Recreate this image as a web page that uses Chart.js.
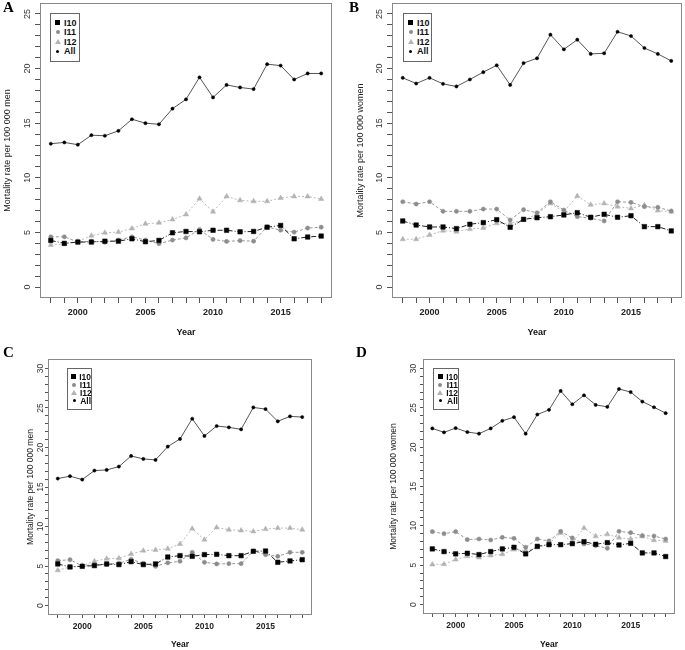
<!DOCTYPE html>
<html>
<head>
<meta charset="utf-8">
<script src="https://cdn.jsdelivr.net/npm/chart.js@4.4.0/dist/chart.umd.min.js"></script>
<style>
  body { margin: 0; background: #fff; width: 685px; height: 650px; position: relative; overflow: hidden; }
  .tag { position: absolute; font: bold 15px "Liberation Serif", "Times New Roman", serif; color: #000; line-height: 17px; }
  .legend { position: absolute; box-sizing: border-box; border: 1px solid #666; background: #fff; font-family: "Liberation Sans", Arial, sans-serif; font-weight: bold; color: #111; }
  .legend .row { display: flex; align-items: center; }
  .legend .mk { width: 7px; margin-right: 3px; display: flex; justify-content: center; align-items: center; }
  .mk i { display: block; }
  .sq { width: 5px; height: 5px; background: #000; }
  .ci { width: 4px; height: 4px; border-radius: 50%; background: #8c8c8c; }
  .tr { width: 0; height: 0; border-left: 3px solid transparent; border-right: 3px solid transparent; border-bottom: 5px solid #b3b3b3; }
  .dt { width: 3px; height: 3px; border-radius: 50%; background: #000; }
</style>
</head>
<body>
<script>
const years = [1998, 1999, 2000, 2001, 2002, 2003, 2004, 2005, 2006, 2007, 2008, 2009, 2010, 2011, 2012, 2013, 2014, 2015, 2016, 2017, 2018];
const seriesNames = ['I10', 'I11', 'I12', 'All'];
const xTickLabels = [2000, 2005, 2010, 2015];

// A - men
const aI10 = [4.27, 4.0, 4.12, 4.12, 4.2, 4.2, 4.42, 4.15, 4.27, 4.97, 5.09, 5.06, 5.2, 5.2, 5.06, 5.09, 5.48, 5.64, 4.42, 4.58, 4.67];
const aI11 = [4.6, 4.6, 4.12, 4.2, 4.1, 4.3, 4.6, 4.3, 3.97, 4.3, 4.5, 5.27, 4.36, 4.18, 4.25, 4.2, 5.5, 5.2, 5.03, 5.4, 5.48];
const aI12 = [3.85, 3.95, 4.18, 4.7, 4.97, 5.03, 5.36, 5.79, 5.88, 6.18, 6.64, 8.09, 6.9, 8.3, 7.94, 7.85, 7.85, 8.15, 8.3, 8.3, 8.06];
const aAll = [13.12, 13.24, 13.03, 13.9, 13.85, 14.3, 15.36, 15.0, 14.9, 16.33, 17.18, 19.2, 17.36, 18.5, 18.27, 18.12, 20.4, 20.27, 19.0, 19.55, 19.55];

// B - women
const bI10 = [6.05, 5.68, 5.5, 5.5, 5.35, 5.75, 5.9, 6.17, 5.47, 6.2, 6.35, 6.44, 6.6, 6.81, 6.39, 6.66, 6.39, 6.53, 5.53, 5.53, 5.14];
const bI11 = [7.81, 7.6, 7.81, 6.93, 6.93, 6.93, 7.14, 7.14, 6.14, 7.08, 6.8, 7.81, 7.05, 6.44, 6.3, 6.05, 7.81, 7.75, 7.36, 7.3, 6.96];
const bI12 = [4.38, 4.38, 4.77, 5.16, 5.07, 5.32, 5.41, 5.84, 5.84, 6.14, 6.66, 7.66, 6.9, 8.33, 7.54, 7.66, 7.36, 7.2, 7.5, 7.0, 6.9];
const bAll = [19.15, 18.63, 19.15, 18.6, 18.36, 19.0, 19.67, 20.3, 18.5, 20.5, 20.94, 23.1, 21.76, 22.64, 21.34, 21.4, 23.37, 22.98, 21.88, 21.34, 20.7];

// C - men
const cI10 = [5.26, 4.88, 4.96, 5.05, 5.26, 5.18, 5.55, 5.18, 5.26, 6.14, 6.31, 6.23, 6.44, 6.48, 6.31, 6.31, 6.86, 6.9, 5.47, 5.64, 5.8];
const cI11 = [5.68, 5.8, 5.0, 5.2, 5.2, 5.35, 5.85, 5.35, 4.96, 5.4, 5.6, 6.73, 5.47, 5.26, 5.3, 5.3, 6.9, 6.44, 6.23, 6.73, 6.73];
const cI12 = [4.46, 4.88, 5.05, 5.6, 5.93, 5.97, 6.52, 6.94, 7.03, 7.19, 7.78, 9.72, 8.33, 9.89, 9.59, 9.5, 9.38, 9.67, 9.8, 9.8, 9.59];
const cAll = [16.07, 16.37, 15.94, 17.08, 17.16, 17.58, 18.93, 18.55, 18.43, 20.11, 21.08, 23.64, 21.46, 22.72, 22.55, 22.3, 25.07, 24.86, 23.31, 23.94, 23.85];

// D - women
const dI10 = [7.07, 6.73, 6.44, 6.52, 6.35, 6.73, 7.07, 7.28, 6.44, 7.4, 7.61, 7.61, 7.74, 7.99, 7.66, 7.87, 7.57, 7.78, 6.56, 6.56, 6.1];
const dI11 = [9.26, 9.0, 9.26, 8.25, 8.33, 8.2, 8.54, 8.41, 7.28, 8.33, 8.08, 9.3, 8.46, 7.7, 7.49, 7.15, 9.3, 9.13, 8.75, 8.71, 8.33];
const dI12 = [5.09, 5.13, 5.72, 6.14, 5.97, 6.23, 6.39, 6.98, 6.86, 7.24, 7.7, 9.09, 7.91, 9.72, 8.67, 8.92, 8.5, 8.33, 8.67, 8.16, 8.08];
const dAll = [22.38, 21.88, 22.42, 21.92, 21.71, 22.38, 23.35, 23.81, 21.71, 24.15, 24.74, 27.14, 25.45, 26.59, 25.37, 25.12, 27.39, 27.0, 25.79, 25.07, 24.32];

const seriesStyle = [
  { point: 'rect', r: 3.2, fill: '#000', line: '#222', dash: [5, 2, 1, 2], cls: 'sq' },
  { point: 'circle', r: 2.1, fill: '#8c8c8c', line: '#999', dash: [3, 2], cls: 'ci' },
  { point: 'triangle', r: 3.0, fill: '#b3b3b3', line: '#bbb', dash: [2, 2], cls: 'tr' },
  { point: 'circle', r: 1.6, fill: '#000', line: '#555', dash: [], cls: 'dt' },
];

const panels = [
  { tag: 'A', tagPos: [3, -1], box: [0, 0, 340, 345], axisW: 40, padTop: 3, padRight: 8, xAxisH: 47,
    yMax: 25, yLo: -1, yHi: 26, font: 9, tl: 5, yPad: 2, xPad: 4, titlePad: 2, yearPad: 7,
    title: 'Mortality rate per 100 000 men', series: [aI10, aI11, aI12, aAll], legend: [50, 13, 30, 49] },
  { tag: 'B', tagPos: [349, -1], box: [352, 0, 333, 345], axisW: 40, padTop: 3, padRight: 3, xAxisH: 47,
    yMax: 25, yLo: -1, yHi: 26, font: 9, tl: 5, yPad: 2, xPad: 4, titlePad: 3, yearPad: 7,
    title: 'Mortality rate per 100 000 women', series: [bI10, bI11, bI12, bAll], legend: [403, 13, 29, 49] },
  { tag: 'C', tagPos: [3, 344], box: [26, 345, 300, 305], axisW: 22, padTop: 14, padRight: 14, xAxisH: 35,
    yMax: 30, yLo: -1.2, yHi: 31.2, font: 8.5, tl: 3, yPad: 0, xPad: 4, titlePad: 0, yearPad: 0,
    title: 'Mortality rate per 100 000 men', series: [cI10, cI11, cI12, cAll], legend: [67, 368, 25, 42] },
  { tag: 'D', tagPos: [356, 344], box: [389, 345, 296, 305], axisW: 34, padTop: 14, padRight: 10, xAxisH: 36,
    yMax: 30, yLo: -1.2, yHi: 31.2, font: 8.5, tl: 3, yPad: 2, xPad: 4, titlePad: 0, yearPad: 0,
    title: 'Mortality rate per 100 000 women', series: [dI10, dI11, dI12, dAll], legend: [433, 368, 26, 42] },
];

const FONT = '"Liberation Sans", Arial, sans-serif';

// grey box round the plot area, like R's box()
const framePlugin = {
  id: 'frame',
  beforeDatasetsDraw(chart) {
    const { ctx, chartArea: a } = chart;
    ctx.save();
    ctx.strokeStyle = '#888';
    ctx.lineWidth = 1;
    ctx.strokeRect(Math.round(a.left) + 0.5, Math.round(a.top) + 0.5, Math.round(a.width) - 1, Math.round(a.height) - 1);
    ctx.restore();
  }
};

function makeChart(p) {
  const [left, top, w, h] = p.box;
  const cv = document.createElement('canvas');
  cv.width = w;
  cv.height = h;
  cv.style.cssText = `position:absolute;left:${left}px;top:${top}px;width:${w}px;height:${h}px`;
  document.body.appendChild(cv);

  const datasets = seriesNames.map((name, i) => {
    const s = seriesStyle[i];
    return {
      label: name,
      data: years.map((yr, j) => ({ x: yr, y: p.series[i][j] })),
      borderColor: s.line,
      borderWidth: 1,
      borderDash: s.dash,
      pointStyle: s.point,
      pointRadius: s.r,
      pointBackgroundColor: s.fill,
      pointBorderColor: s.fill,
      pointBorderWidth: 0.5,
      tension: 0
    };
  });

  new Chart(cv, {
    type: 'line',
    data: { datasets },
    plugins: [framePlugin],
    options: {
      responsive: false,
      animation: false,
      events: [],
      layout: { autoPadding: false, padding: { left: 0, right: p.padRight, top: p.padTop, bottom: 0 } },
      plugins: { legend: { display: false }, tooltip: { enabled: false } },
      scales: {
        x: {
          type: 'linear',
          min: 1997.2,
          max: 2018.8,
          afterBuildTicks: s => { s.ticks = years.map(v => ({ value: v })); },
          afterFit: s => { s.height = p.xAxisH; s.paddingLeft = 0; s.paddingRight = 0; },
          ticks: {
            autoSkip: false, maxRotation: 0, padding: p.xPad, color: '#222',
            font: { family: FONT, size: p.font, weight: 'bold' },
            callback: v => xTickLabels.includes(v) ? String(v) : ''
          },
          grid: { drawOnChartArea: false, tickLength: p.tl, tickColor: '#555' },
          border: { display: false },
          title: { display: true, text: 'Year', color: '#111', padding: { top: 0, bottom: p.yearPad },
                   font: { family: FONT, size: p.font, weight: 'bold' } }
        },
        y: {
          type: 'linear',
          min: p.yLo,
          max: p.yHi,
          afterBuildTicks: s => {
            const t = [];
            for (let v = 0; v <= p.yMax; v++) t.push({ value: v });
            s.ticks = t;
          },
          afterFit: s => { s.width = p.axisW; s.paddingTop = 0; s.paddingBottom = 0; },
          ticks: {
            autoSkip: false, minRotation: 90, maxRotation: 90, crossAlign: 'center',
            padding: p.yPad, color: '#333',
            font: { family: FONT, size: p.font },
            callback: v => v % 5 === 0 ? String(v) : ''
          },
          grid: { drawOnChartArea: false, tickLength: p.tl, tickColor: '#555' },
          border: { display: false },
          title: { display: true, text: p.title, color: '#222', padding: { top: p.titlePad, bottom: 0 },
                   font: { family: FONT, size: p.font } }
        }
      }
    }
  });
}

function makeLegend(p) {
  const [l, t, w, h] = p.legend;
  const rowH = (h - 2) / 5;
  const box = document.createElement('div');
  box.className = 'legend';
  box.style.cssText = `left:${l}px;top:${t}px;width:${w}px;height:${h}px;padding:${rowH * 0.45}px 0 0 3px;font-size:${p.font}px`;
  seriesNames.forEach((name, i) => {
    const row = document.createElement('div');
    row.className = 'row';
    row.style.height = rowH + 'px';
    const mk = document.createElement('span');
    mk.className = 'mk';
    const shape = document.createElement('i');
    shape.className = seriesStyle[i].cls;
    mk.appendChild(shape);
    const tx = document.createElement('span');
    tx.textContent = name;
    row.appendChild(mk);
    row.appendChild(tx);
    box.appendChild(row);
  });
  document.body.appendChild(box);
}

function makeTag(p) {
  const el = document.createElement('div');
  el.className = 'tag';
  el.style.left = p.tagPos[0] + 'px';
  el.style.top = p.tagPos[1] + 'px';
  el.textContent = p.tag;
  document.body.appendChild(el);
}

panels.forEach(p => {
  makeChart(p);
  makeLegend(p);
  makeTag(p);
});
</script>
</body>
</html>
